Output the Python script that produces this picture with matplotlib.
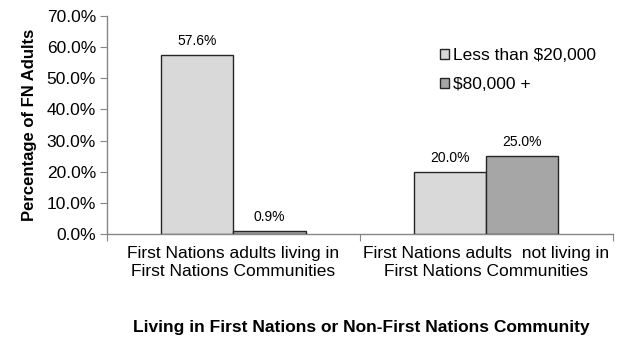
import matplotlib
matplotlib.use('Agg')
import matplotlib.pyplot as plt
import numpy as np

plt.rcParams['font.family'] = ['Liberation Sans', 'DejaVu Sans']

categories = ['First Nations adults living in\nFirst Nations Communities',
              'First Nations adults  not living in\nFirst Nations Communities']
series_names = ['Less than $20,000', '$80,000 +']
low_income = [57.6, 20.0]
high_income = [0.9, 25.0]
colors = ['#d9d9d9', '#a6a6a6']
axis_grey = '#868686'

fig = plt.figure(figsize=(6.19, 3.43), dpi=100)
ax = fig.add_axes([0.1729, 0.3178, 0.8171, 0.6356])

x = np.arange(len(categories))
w = 0.285
for i, (vals, name) in enumerate(zip([low_income, high_income], series_names)):
    bars = ax.bar(x + (i - 0.5) * w, vals, w, color=colors[i], edgecolor='#262626',
                  linewidth=1.0, label=name, zorder=3)
    for b, v in zip(bars, vals):
        ax.annotate(f'{v:.1f}%', (b.get_x() + b.get_width() / 2, v), xytext=(0, 5),
                    textcoords='offset points', ha='center', va='bottom', fontsize=10)

ax.set_xlim(-0.5, 1.5)
ax.set_ylim(0, 70)
ax.set_yticks(np.arange(0, 71, 10))
ax.set_yticklabels([f'{t:.1f}%' for t in np.arange(0, 71, 10)], fontsize=12.5)

# category boundaries get the tick marks, labels sit on minor ticks at the centres
ax.set_xticks([-0.5, 0.5, 1.5])
ax.set_xticklabels([])
ax.set_xticks(x, minor=True)
ax.set_xticklabels(categories, minor=True, fontsize=12.5, linespacing=1.2)
ax.tick_params(axis='x', which='minor', length=0, pad=9)
ax.tick_params(axis='x', which='major', length=5, color=axis_grey, direction='out')
ax.tick_params(axis='y', length=5, color=axis_grey, direction='out', pad=3)

for s in ['top', 'right']:
    ax.spines[s].set_visible(False)
for s in ['left', 'bottom']:
    ax.spines[s].set_color(axis_grey)
    ax.spines[s].set_linewidth(1.0)

ax.set_ylabel('Percentage of FN Adults', fontsize=12, fontweight='bold', labelpad=7)
fig.text(0.584, 0.045, 'Living in First Nations or Non-First Nations Community',
         ha='center', va='center', fontsize=12.5, fontweight='bold')

ax.legend(loc='upper left', bbox_to_anchor=(0.700, 0.88), bbox_transform=fig.transFigure,
          frameon=False, fontsize=12.5, handlelength=0.5, handleheight=0.5,
          handletextpad=0.25, labelspacing=0.8, borderaxespad=0)

fig.savefig('out.png', dpi=100)
